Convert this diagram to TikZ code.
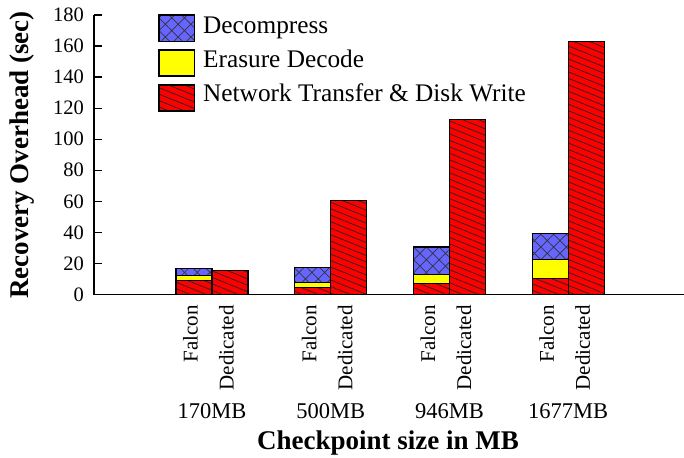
\documentclass[tikz,border=0pt]{standalone}
\usepackage{fontspec}
\setmainfont{Liberation Serif}
\usetikzlibrary{patterns.meta}

\definecolor{decblue}{RGB}{102,102,255}
\definecolor{erayellow}{RGB}{255,255,0}
\definecolor{netred}{RGB}{255,0,0}

\tikzset{
  seg/.style={draw=black, line width=1.1pt},
  decomp/.style={seg, preaction={fill=decblue},
    pattern={Hatch[angle=45,distance=9pt,line width=0.7pt]}, pattern color=black!80},
  erasure/.style={seg, fill=erayellow},
  network/.style={seg, preaction={fill=netred},
    pattern={Lines[angle=-22,distance=6pt,line width=0.75pt]}, pattern color=black!85},
  axisline/.style={line width=1.2pt},
  ticklab/.style={anchor=east, inner sep=0pt, font=\fontsize{20.5}{24}\selectfont},
  barlab/.style={rotate=90, anchor=east, inner sep=0pt, font=\fontsize{21}{24}\selectfont},
  sizelab/.style={anchor=base, inner sep=0pt, font=\fontsize{22.5}{26}\selectfont},
  legtext/.style={anchor=base west, inner sep=0pt, font=\fontsize{25.3}{29}\selectfont},
  axtitle/.style={inner sep=0pt, font=\fontsize{27}{30}\selectfont\bfseries}
}

\begin{document}
\begin{tikzpicture}[x=1pt, y=-1pt]
  \useasboundingbox (0,0) rectangle (684,457);
  \fill[white] (0,0) rectangle (684,457);

  % stacked bars, in data units (seconds), origin on the x axis
  \begin{scope}[shift={(0,294.5)}, y={(0pt,1.553pt)}]
    % Falcon: network / erasure / decompress ; Dedicated: network only
    \foreach \i/\r/\e/\d/\ded in {0/9/12/16.5/15.4, 1/4.3/7.5/17.2/60.5,
                                  2/7.1/12.9/30.6/112.5, 3/10.1/22.5/39/163} {
      \pgfmathsetmacro{\xl}{176+118.7*\i}
      \path[network] (\xl,0) rectangle (\xl+36,\r);
      \path[erasure] (\xl,\r) rectangle (\xl+36,\e);
      \path[decomp]  (\xl,\e) rectangle (\xl+36,\d);
      \path[network] (\xl+36,0) rectangle (\xl+72,\ded);
    }
  \end{scope}

  % axes
  \draw[axisline] (94,14.7) -- (94,294.5) -- (684,294.5);
  \foreach \v [count=\k] in {0,20,...,180} {
    \pgfmathsetmacro{\yy}{294.5-1.553*\v}
    \draw[axisline] (94,\yy) -- (102,\yy);
    \node[ticklab] (tick\k) at (84,\yy) {\v};
  }

  % bar and group labels
  \foreach \s [count=\k from 0] in {170MB,500MB,946MB,1677MB} {
    \pgfmathsetmacro{\xc}{212+118.7*\k}
    \node[barlab] (fal\k) at (\xc-21.5,305) {Falcon};
    \node[barlab] (ded\k) at (\xc+14.5,305) {Dedicated};
    \node[sizelab] (size\k) at (\xc,418) {\s};
  }

  % axis titles
  \node[axtitle, rotate=90] (ytitle) at (22,155) {Recovery Overhead (sec)};
  \node[axtitle, anchor=base] (xtitle) at (388,449) {Checkpoint size in MB};

  % legend
  \path[decomp]  (159,15) rectangle (194.5,41.5);
  \path[erasure] (159,50) rectangle (194.5,76);
  \path[network] (159,85) rectangle (194.5,111);
  \node[legtext] (legdec) at (203,33.5) {Decompress};
  \node[legtext] (legera) at (203,67.5) {Erasure Decode};
  \node[legtext] (legnet) at (203,101.5) {Network Transfer \& Disk Write};
\end{tikzpicture}
\end{document}
